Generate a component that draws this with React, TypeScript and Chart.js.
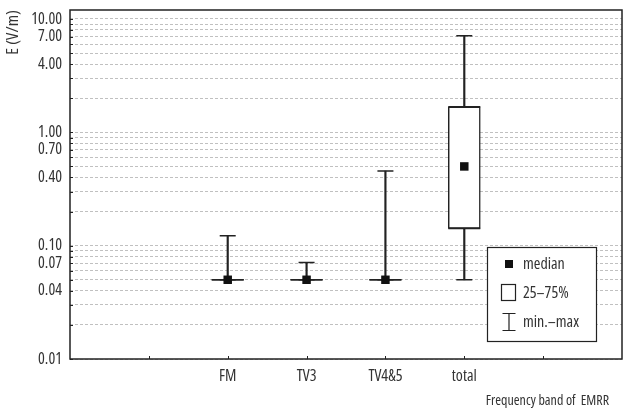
import React, { useEffect, useRef } from 'react';
import { Chart, registerables } from 'chart.js';

Chart.register(...registerables);

// ---- data ----
const bands = ['FM', 'TV3', 'TV4&5', 'total'];
const minValues = [0.05, 0.05, 0.05, 0.05];
const q1Values = [0.05, 0.05, 0.05, 0.142];
const medianValues = [0.05, 0.05, 0.05, 0.5];
const q3Values = [0.05, 0.05, 0.05, 1.68];
const maxValues = [0.122, 0.071, 0.455, 7.1];

const emptySlotsBefore = 2;
const emptySlotsAfter = 2;

const yTickLabels = [0.01, 0.04, 0.07, 0.1, 0.4, 0.7, 1, 4, 7, 10];
const gridMantissas = [1, 2, 3, 4, 5, 6, 7, 8, 9];
const gridDecades = [0.01, 0.1, 1];
const yMin = 0.01;
const yMax = 12;

const legendItems = ['median', '25–75%', 'min.–max'];
const yTitle = 'E (V/m)';
const xTitle = 'Frequency band of  EMRR';

// ---- helpers ----
const labels = [
  ...Array(emptySlotsBefore).fill(''),
  ...bands,
  ...Array(emptySlotsAfter).fill(''),
];
function pad<T>(arr: T[]): (T | null)[] {
  return [
    ...Array(emptySlotsBefore).fill(null),
    ...arr,
    ...Array(emptySlotsAfter).fill(null),
  ];
}
const gridValues = gridDecades
  .flatMap((d) => gridMantissas.map((m) => +(m * d).toPrecision(6)))
  .concat([10]);

const FONT = "'Open Sans', 'DejaVu Sans Condensed', sans-serif";
const STRETCH = 'condensed';
const TEXT = '#333';
const INK = '#222';

const framePlugin = {
  id: 'frameAndLegend',
  afterDraw(chart: any) {
    const { ctx, chartArea, scales } = chart;
    const { left, right, top, bottom } = chartArea;
    ctx.save();
    // inner ticks
    ctx.strokeStyle = INK;
    ctx.lineWidth = 1;
    const ys = scales.y;
    ys.ticks.forEach((t: any) => {
      const py = Math.round(ys.getPixelForValue(t.value)) + 0.5;
      ctx.beginPath();
      ctx.moveTo(left, py);
      ctx.lineTo(left + 3, py);
      ctx.stroke();
    });
    const xs = scales.x;
    for (let i = 1; i < labels.length - 1; i++) {
      const px = Math.round(xs.getPixelForValue(i)) + 0.5;
      ctx.beginPath();
      ctx.moveTo(px, bottom);
      ctx.lineTo(px, bottom - 3);
      ctx.stroke();
    }
    // frame
    ctx.lineWidth = 1.5;
    ctx.strokeRect(left, top, right - left, bottom - top);

    // legend
    const bx = right - 135;
    const by = bottom - 112;
    const bw = 109;
    const bh = 94;
    ctx.fillStyle = '#fff';
    ctx.fillRect(bx, by, bw, bh);
    ctx.lineWidth = 1.2;
    ctx.strokeStyle = INK;
    ctx.strokeRect(bx + 0.5, by + 0.5, bw, bh);

    const symX = bx + 22;
    const textX = bx + 36;
    const rowY = [by + 17, by + 46, by + 75];
    // median
    ctx.fillStyle = '#111';
    ctx.fillRect(symX - 4, rowY[0] - 4, 8, 8);
    // box
    ctx.lineWidth = 1.2;
    ctx.strokeRect(symX - 7.5, rowY[1] - 8.5, 14, 16);
    // whisker
    ctx.beginPath();
    ctx.moveTo(symX - 6.5, rowY[2] - 8.5);
    ctx.lineTo(symX + 6.5, rowY[2] - 8.5);
    ctx.moveTo(symX, rowY[2] - 8.5);
    ctx.lineTo(symX, rowY[2] + 8.5);
    ctx.moveTo(symX - 6.5, rowY[2] + 8.5);
    ctx.lineTo(symX + 6.5, rowY[2] + 8.5);
    ctx.stroke();

    ctx.fillStyle = TEXT;
    ctx.font = `${STRETCH} 16px ${FONT}`;
    ctx.textAlign = 'left';
    ctx.textBaseline = 'middle';
    legendItems.forEach((t, i) => ctx.fillText(t, textX, rowY[i]));

    // x axis title
    ctx.font = `${STRETCH} 14px ${FONT}`;
    ctx.textAlign = 'right';
    ctx.textBaseline = 'alphabetic';
    ctx.fillText(xTitle, right - 13, 405);
    ctx.restore();
  },
};

export default function App() {
  const ref = useRef<HTMLCanvasElement | null>(null);
  useEffect(() => {
    if (!ref.current) return;
    const chart = new Chart(ref.current, {
      type: 'bar',
      data: {
        labels,
        datasets: [
          {
            type: 'bar',
            label: 'range',
            data: pad(bands.map((_, i) => [minValues[i], maxValues[i]])) as any,
            backgroundColor: INK,
            barThickness: 1.5,
            grouped: false,
            order: 5,
          } as any,
          {
            type: 'bar',
            label: 'box',
            data: pad(bands.map((_, i) => [q1Values[i], q3Values[i]])) as any,
            backgroundColor: '#fff',
            borderColor: INK,
            borderWidth: 1.5,
            borderSkipped: false,
            barThickness: 32,
            grouped: false,
            order: 4,
          } as any,
          {
            type: 'line',
            label: 'q1',
            data: pad(q1Values),
            showLine: false,
            pointStyle: 'line',
            pointRadius: 16,
            pointBorderColor: INK,
            pointBorderWidth: 1.5,
            order: 3,
          } as any,
          {
            type: 'line',
            label: 'q3',
            data: pad(q3Values),
            showLine: false,
            pointStyle: 'line',
            pointRadius: 16,
            pointBorderColor: INK,
            pointBorderWidth: 1.5,
            order: 3,
          } as any,
          {
            type: 'line',
            label: 'min',
            data: pad(minValues),
            showLine: false,
            pointStyle: 'line',
            pointRadius: 8,
            pointBorderColor: INK,
            pointBorderWidth: 1.5,
            order: 2,
          } as any,
          {
            type: 'line',
            label: 'max',
            data: pad(maxValues),
            showLine: false,
            pointStyle: 'line',
            pointRadius: 8,
            pointBorderColor: INK,
            pointBorderWidth: 1.5,
            order: 2,
          } as any,
          {
            type: 'line',
            label: 'median',
            data: pad(medianValues),
            showLine: false,
            pointStyle: 'rect',
            pointRadius: 6,
            pointBackgroundColor: '#111',
            pointBorderWidth: 0,
            order: 1,
          } as any,
        ],
      },
      options: {
        responsive: false,
        animation: false,
        events: [],
        layout: { autoPadding: false, padding: { top: 10, right: 1, left: 0, bottom: 0 } },
        plugins: { legend: { display: false }, tooltip: { enabled: false } },
        scales: {
          x: {
            type: 'category',
            offset: false,
            grid: { display: false, drawTicks: false },
            border: { display: false },
            ticks: {
              autoSkip: false,
              maxRotation: 0,
              padding: 8,
              color: TEXT,
              font: { family: FONT, size: 16, weight: STRETCH },
            },
            afterFit: (s: any) => {
              s.height = 51;
              s.paddingLeft = 0;
              s.paddingRight = 0;
            },
          },
          y: {
            type: 'logarithmic',
            min: yMin,
            max: yMax,
            afterBuildTicks: (s: any) => {
              s.ticks = gridValues.map((v) => ({ value: v }));
            },
            grid: { color: '#c0c0c0', drawTicks: false, lineWidth: 1 },
            border: { display: false, dash: [3, 2] },
            ticks: {
              autoSkip: false,
              padding: 8,
              color: TEXT,
              font: { family: FONT, size: 16, weight: STRETCH },
              callback: (v: any) => {
                const n = Number(v);
                return yTickLabels.some((t) => Math.abs(t - n) < t * 1e-6) ? n.toFixed(2) : '';
              },
            },
            title: {
              display: true,
              text: yTitle,
              align: 'end',
              color: TEXT,
              font: { family: FONT, size: 17, weight: STRETCH },
              padding: { top: 3, bottom: 0 },
            },
            afterFit: (s: any) => {
              s.width = 70;
              s.paddingTop = 0;
              s.paddingBottom = 0;
            },
          },
        },
      } as any,
      plugins: [framePlugin],
    });
    return () => chart.destroy();
  }, []);
  return (
    <div style={{ position: 'fixed', left: 0, top: 0, width: 623, height: 410, background: '#fff' }}>
      <canvas ref={ref} width={623} height={410} />
    </div>
  );
}
